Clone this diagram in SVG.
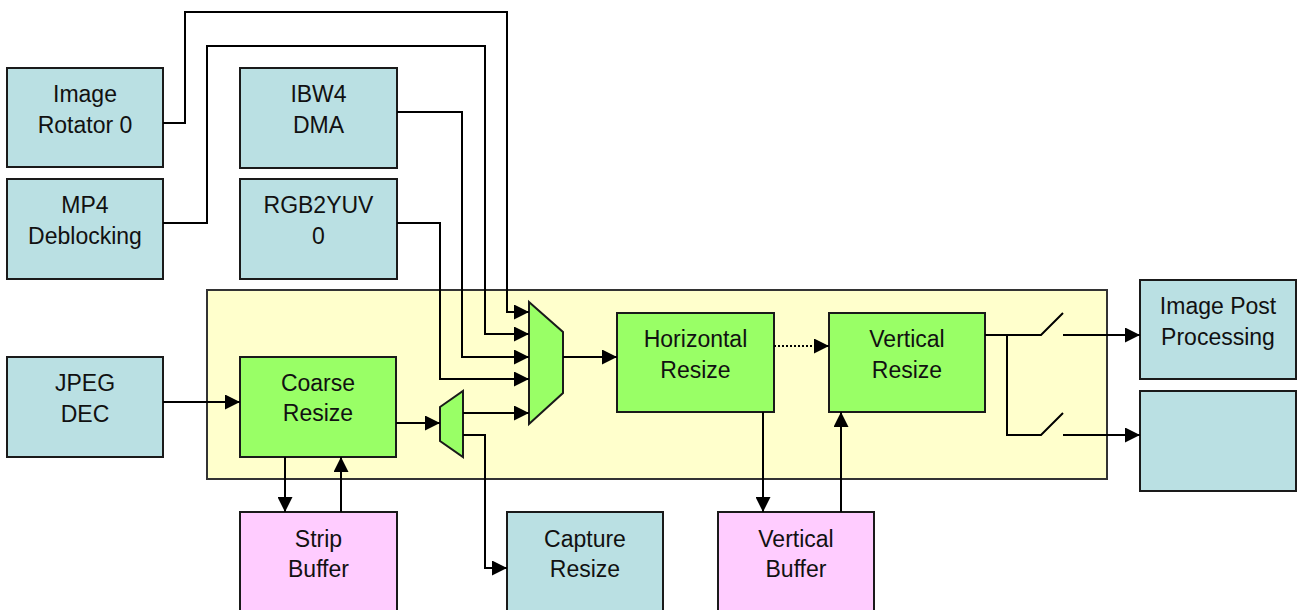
<svg xmlns="http://www.w3.org/2000/svg" width="1299" height="610" viewBox="0 0 1299 610">
<defs>
<style>
.teal{fill:#BAE0E3;stroke:#1a1a1a;stroke-width:2}
.green{fill:#99FF66;stroke:#1a1a1a;stroke-width:2}
.pink{fill:#FFCCFF;stroke:#1a1a1a;stroke-width:2}
.cont{fill:#FFFFCC;stroke:#333;stroke-width:2}
.t{font-family:"Liberation Sans",Arial,sans-serif;font-size:23px;fill:#111;text-anchor:middle}
.c{fill:none;stroke:#000;stroke-width:2}
.a{marker-end:url(#ah)}
.d{stroke-dasharray:2 2}
</style>
<marker id="ah" markerUnits="userSpaceOnUse" markerWidth="16" markerHeight="15" refX="15" refY="7.5" orient="auto">
<path d="M0,0 L15,7.5 L0,15 Z" fill="#000"/>
</marker>
</defs>
<rect id="container" class="cont" x="207" y="290" width="900" height="189"/>
<g id="image-rotator-0"><rect class="teal" x="7" y="68" width="156" height="99"/><text class="t" x="85" y="102">Image</text><text class="t" x="85" y="133">Rotator 0</text></g>
<g id="mp4-deblocking"><rect class="teal" x="7" y="179" width="156" height="100"/><text class="t" x="85" y="213">MP4</text><text class="t" x="85" y="244">Deblocking</text></g>
<g id="ibw4-dma"><rect class="teal" x="240" y="68" width="157" height="100"/><text class="t" x="318.5" y="102">IBW4</text><text class="t" x="318.5" y="133">DMA</text></g>
<g id="rgb2yuv-0"><rect class="teal" x="240" y="179" width="157" height="100"/><text class="t" x="318.5" y="213">RGB2YUV</text><text class="t" x="318.5" y="244">0</text></g>
<g id="jpeg-dec"><rect class="teal" x="7" y="357" width="156" height="100"/><text class="t" x="85" y="391">JPEG</text><text class="t" x="85" y="422">DEC</text></g>
<g id="coarse-resize"><rect class="green" x="240" y="357" width="156" height="100"/><text class="t" x="318" y="391">Coarse</text><text class="t" x="318" y="421">Resize</text></g>
<g id="small-mux"><path class="green" d="M440,407 L463,391 L463,457 L440,441 Z"/></g>
<g id="big-mux"><path class="green" d="M529,302 L563,332 L563,393 L529,424 Z"/></g>
<g id="horizontal-resize"><rect class="green" x="617" y="313" width="157" height="99"/><text class="t" x="695.5" y="347">Horizontal</text><text class="t" x="695.5" y="378">Resize</text></g>
<g id="vertical-resize"><rect class="green" x="829" y="313" width="156" height="99"/><text class="t" x="907" y="347">Vertical</text><text class="t" x="907" y="378">Resize</text></g>
<g id="image-post-processing"><rect class="teal" x="1140" y="280" width="156" height="99"/><text class="t" x="1218" y="314">Image Post</text><text class="t" x="1218" y="345">Processing</text></g>
<g id="output-2"><rect class="teal" x="1140" y="391" width="156" height="100"/></g>
<g id="strip-buffer"><rect class="pink" x="240" y="512" width="157" height="110"/><text class="t" x="318.5" y="547">Strip</text><text class="t" x="318.5" y="577">Buffer</text></g>
<g id="capture-resize"><rect class="teal" x="507" y="512" width="156" height="110"/><text class="t" x="585" y="547">Capture</text><text class="t" x="585" y="577">Resize</text></g>
<g id="vertical-buffer"><rect class="pink" x="718" y="512" width="156" height="110"/><text class="t" x="796" y="547">Vertical</text><text class="t" x="796" y="577">Buffer</text></g>
<g id="connectors">
<path class="c a" d="M163,123 H185 V12 H507 V312 H529"/>
<path class="c a" d="M163,223 H207 V46 H485 V334 H529"/>
<path class="c a" d="M397,112 H462 V357 H529"/>
<path class="c a" d="M397,223 H440 V379 H529"/>
<path class="c a" d="M463,413 H529"/>
<path class="c a" d="M163,402 H240"/>
<path class="c a" d="M396,423 H440"/>
<path class="c a" d="M463,435 H485 V568 H507"/>
<path class="c a" d="M563,357 H617"/>
<path class="c d" d="M774,346 H816"/>
<path class="c a" d="M814,346 H829"/>
<path class="c a" d="M285,457 V512"/>
<path class="c a" d="M341,512 V457"/>
<path class="c a" d="M763,412 V512"/>
<path class="c a" d="M841,512 V412"/>
<path class="c" d="M985,335 H1041 L1063,313"/>
<path class="c" d="M1007,335 V435 H1041 L1063,413"/>
<path class="c a" d="M1063,335 H1140"/>
<path class="c a" d="M1063,435 H1140"/>
</g>
</svg>
